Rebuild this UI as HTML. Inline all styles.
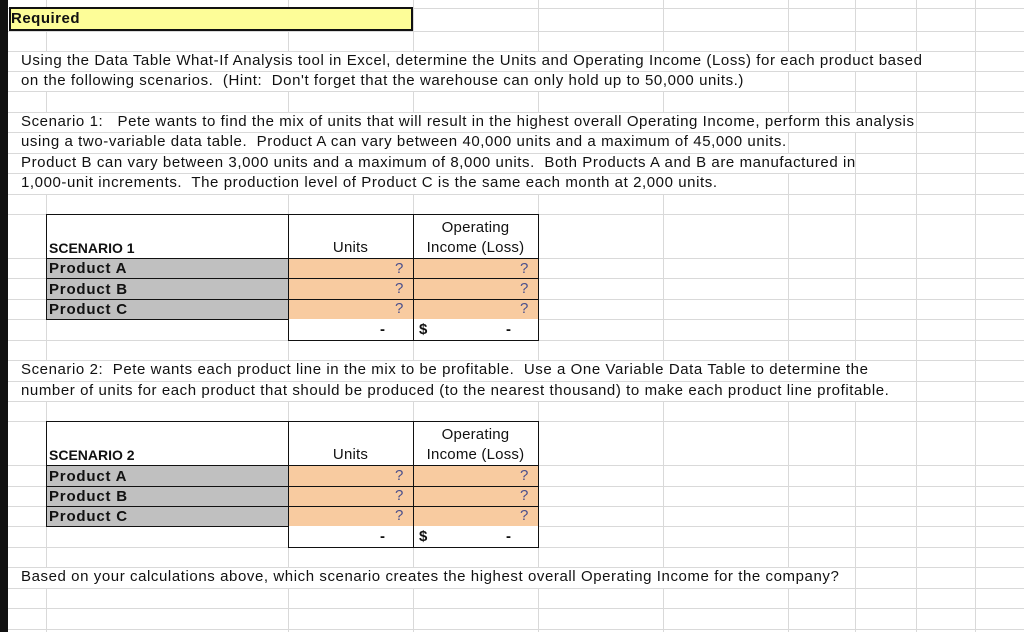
<!DOCTYPE html>
<html><head><meta charset="utf-8"><style>
body{margin:0;width:1024px;height:632px;overflow:hidden;background:#fff;font-family:"Liberation Sans",Arial,sans-serif;position:relative}
.t{position:absolute;font-size:15px;letter-spacing:0.58px;color:#111;white-space:nowrap;line-height:20px}
.h{letter-spacing:0.2px}
.p{font-weight:bold;font-size:15px;letter-spacing:0.8px;top:1px}
.w{position:absolute;background:#fff}
.b{position:absolute;box-sizing:border-box}
.q{color:#4a4f8c;letter-spacing:0}
</style></head><body>
<svg width="1024" height="632" style="position:absolute;left:0;top:0">
<g stroke="#d9d9d9" stroke-width="1">
<line x1="46.5" y1="0" x2="46.5" y2="632"/><line x1="288.5" y1="0" x2="288.5" y2="632"/><line x1="413.5" y1="0" x2="413.5" y2="632"/><line x1="538.5" y1="0" x2="538.5" y2="632"/><line x1="663.5" y1="0" x2="663.5" y2="632"/><line x1="788.5" y1="0" x2="788.5" y2="632"/><line x1="855.5" y1="0" x2="855.5" y2="632"/><line x1="916.5" y1="0" x2="916.5" y2="632"/><line x1="975.5" y1="0" x2="975.5" y2="632"/>
<line x1="8" y1="8.5" x2="1024" y2="8.5"/><line x1="8" y1="31.5" x2="1024" y2="31.5"/><line x1="8" y1="51.5" x2="1024" y2="51.5"/><line x1="8" y1="71.5" x2="1024" y2="71.5"/><line x1="8" y1="91.5" x2="1024" y2="91.5"/><line x1="8" y1="112.5" x2="1024" y2="112.5"/><line x1="8" y1="132.5" x2="1024" y2="132.5"/><line x1="8" y1="153.5" x2="1024" y2="153.5"/><line x1="8" y1="173.5" x2="1024" y2="173.5"/><line x1="8" y1="194.5" x2="1024" y2="194.5"/><line x1="8" y1="214.5" x2="1024" y2="214.5"/><line x1="8" y1="258.5" x2="1024" y2="258.5"/><line x1="8" y1="278.5" x2="1024" y2="278.5"/><line x1="8" y1="299.5" x2="1024" y2="299.5"/><line x1="8" y1="319.5" x2="1024" y2="319.5"/><line x1="8" y1="340.5" x2="1024" y2="340.5"/><line x1="8" y1="360.5" x2="1024" y2="360.5"/><line x1="8" y1="381.5" x2="1024" y2="381.5"/><line x1="8" y1="401.5" x2="1024" y2="401.5"/><line x1="8" y1="421.5" x2="1024" y2="421.5"/><line x1="8" y1="465.5" x2="1024" y2="465.5"/><line x1="8" y1="486.5" x2="1024" y2="486.5"/><line x1="8" y1="506.5" x2="1024" y2="506.5"/><line x1="8" y1="526.5" x2="1024" y2="526.5"/><line x1="8" y1="547.5" x2="1024" y2="547.5"/><line x1="8" y1="567.5" x2="1024" y2="567.5"/><line x1="8" y1="588.5" x2="1024" y2="588.5"/><line x1="8" y1="608.5" x2="1024" y2="608.5"/><line x1="8" y1="629.5" x2="1024" y2="629.5"/>
</g></svg>
<div class="b" style="left:0;top:0;width:8px;height:632px;background:#111"></div>
<div class="b" style="left:9px;top:7px;width:404px;height:24px;background:#fdfd98;border:2px solid #111"></div>
<div class="t" style="left:11px;top:9px;font-weight:bold;font-size:15px;letter-spacing:0.5px">Required</div>

<div class="w" style="left:9px;top:52px;width:966px;height:19px"></div>
<div class="w" style="left:9px;top:72px;width:779px;height:19px"></div>
<div class="t" style="left:21px;top:51px">Using the Data Table What-If Analysis tool in Excel, determine the Units and Operating Income (Loss) for each product based</div>
<div class="t" style="left:21px;top:71px">on the following scenarios.&nbsp; (Hint:&nbsp; Don't forget that the warehouse can only hold up to 50,000 units.)</div>

<div class="w" style="left:9px;top:113px;width:907px;height:19px"></div>
<div class="w" style="left:9px;top:133px;width:779px;height:20px"></div>
<div class="w" style="left:9px;top:154px;width:846px;height:19px"></div>
<div class="w" style="left:9px;top:174px;width:779px;height:20px"></div>
<div class="t" style="left:21px;top:112px">Scenario 1:&nbsp;&nbsp; Pete wants to find the mix of units that will result in the highest overall Operating Income, perform this analysis</div>
<div class="t" style="left:21px;top:132px">using a two-variable data table.&nbsp; Product A can vary between 40,000 units and a maximum of 45,000 units.</div>
<div class="t" style="left:21px;top:153px">Product B can vary between 3,000 units and a maximum of 8,000 units.&nbsp; Both Products A and B are manufactured in</div>
<div class="t" style="left:21px;top:173px">1,000-unit increments.&nbsp; The production level of Product C is the same each month at 2,000 units.</div>

<!-- table 1 -->
<div class="b" style="left:46px;top:214px;width:493px;height:106px;background:#fff;border:1px solid #111"></div>
<div class="b" style="left:47px;top:259px;width:241px;height:60px;background:#c0c0c0"></div>
<div class="b" style="left:289px;top:259px;width:249px;height:60px;background:#f8cba0"></div>
<div class="b" style="left:46px;top:258px;width:493px;height:1px;background:#111"></div>
<div class="b" style="left:46px;top:278px;width:493px;height:1px;background:#111"></div>
<div class="b" style="left:46px;top:299px;width:493px;height:1px;background:#111"></div>
<div class="b" style="left:288px;top:214px;width:1px;height:127px;background:#111"></div>
<div class="b" style="left:413px;top:214px;width:1px;height:127px;background:#111"></div>
<div class="b" style="left:288px;top:319px;width:251px;height:22px;background:#fff;border:1px solid #111;border-top:none"></div>
<div class="b" style="left:413px;top:319px;width:1px;height:22px;background:#111"></div>
<div class="t" style="left:49px;top:238px;font-weight:bold;font-size:14px;letter-spacing:0">SCENARIO 1</div>
<div class="t h" style="left:288px;top:238px;width:125px;text-align:center">Units</div>
<div class="t h" style="left:413px;top:218px;width:125px;text-align:center">Operating</div>
<div class="t h" style="left:413px;top:238px;width:125px;text-align:center">Income (Loss)</div>
<div class="t p" style="left:49px;top:259px">Product A</div>
<div class="t p" style="left:49px;top:280px">Product B</div>
<div class="t p" style="left:49px;top:300px">Product C</div>
<div class="t q" style="left:395px;top:259px">?</div><div class="t q" style="left:520px;top:259px">?</div>
<div class="t q" style="left:395px;top:279px">?</div><div class="t q" style="left:520px;top:279px">?</div>
<div class="t q" style="left:395px;top:299px">?</div><div class="t q" style="left:520px;top:299px">?</div>
<div class="t" style="left:380px;top:320px;font-weight:bold">-</div>
<div class="t" style="left:419px;top:320px;font-weight:bold">$</div>
<div class="t" style="left:506px;top:320px;font-weight:bold">-</div>

<div class="w" style="left:9px;top:361px;width:907px;height:20px"></div>
<div class="w" style="left:9px;top:382px;width:907px;height:19px"></div>
<div class="t" style="left:21px;top:360px">Scenario 2:&nbsp; Pete wants each product line in the mix to be profitable.&nbsp; Use a One Variable Data Table to determine the</div>
<div class="t" style="left:21px;top:381px">number of units for each product that should be produced (to the nearest thousand) to make each product line profitable.</div>

<!-- table 2 -->
<div class="b" style="left:46px;top:421px;width:493px;height:106px;background:#fff;border:1px solid #111"></div>
<div class="b" style="left:47px;top:466px;width:241px;height:60px;background:#c0c0c0"></div>
<div class="b" style="left:289px;top:466px;width:249px;height:60px;background:#f8cba0"></div>
<div class="b" style="left:46px;top:465px;width:493px;height:1px;background:#111"></div>
<div class="b" style="left:46px;top:486px;width:493px;height:1px;background:#111"></div>
<div class="b" style="left:46px;top:506px;width:493px;height:1px;background:#111"></div>
<div class="b" style="left:288px;top:421px;width:1px;height:127px;background:#111"></div>
<div class="b" style="left:413px;top:421px;width:1px;height:127px;background:#111"></div>
<div class="b" style="left:288px;top:526px;width:251px;height:22px;background:#fff;border:1px solid #111;border-top:none"></div>
<div class="b" style="left:413px;top:526px;width:1px;height:22px;background:#111"></div>
<div class="t" style="left:49px;top:445px;font-weight:bold;font-size:14px;letter-spacing:0">SCENARIO 2</div>
<div class="t h" style="left:288px;top:445px;width:125px;text-align:center">Units</div>
<div class="t h" style="left:413px;top:425px;width:125px;text-align:center">Operating</div>
<div class="t h" style="left:413px;top:445px;width:125px;text-align:center">Income (Loss)</div>
<div class="t p" style="left:49px;top:467px">Product A</div>
<div class="t p" style="left:49px;top:487px">Product B</div>
<div class="t p" style="left:49px;top:507px">Product C</div>
<div class="t q" style="left:395px;top:466px">?</div><div class="t q" style="left:520px;top:466px">?</div>
<div class="t q" style="left:395px;top:486px">?</div><div class="t q" style="left:520px;top:486px">?</div>
<div class="t q" style="left:395px;top:506px">?</div><div class="t q" style="left:520px;top:506px">?</div>
<div class="t" style="left:380px;top:527px;font-weight:bold">-</div>
<div class="t" style="left:419px;top:527px;font-weight:bold">$</div>
<div class="t" style="left:506px;top:527px;font-weight:bold">-</div>

<div class="w" style="left:9px;top:568px;width:846px;height:20px"></div>
<div class="t" style="left:21px;top:567px">Based on your calculations above, which scenario creates the highest overall Operating Income for the company?</div>
</body></html>
